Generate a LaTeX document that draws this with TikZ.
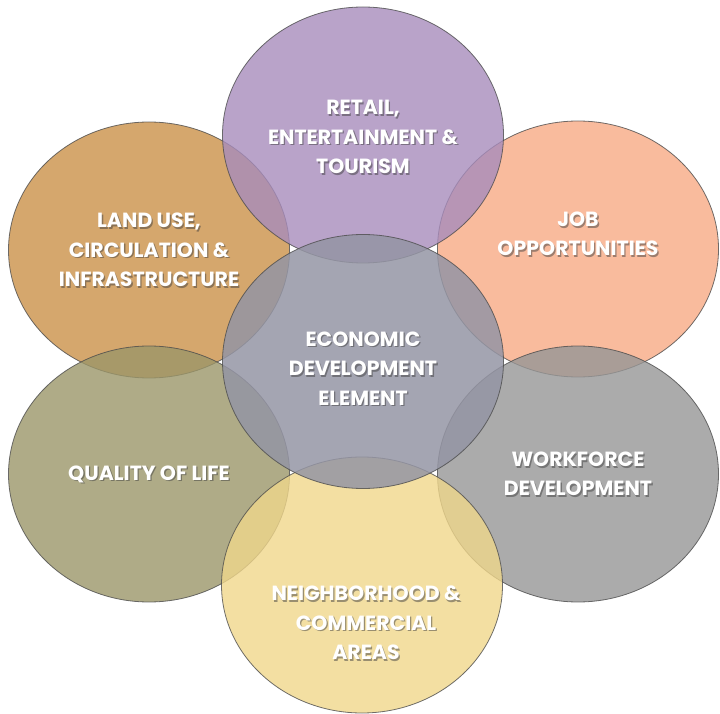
\documentclass[tikz,border=0pt]{standalone}
\usepackage{fontspec}
\setmainfont{Poppins}
\usetikzlibrary{shapes.geometric,positioning}

\definecolor{retailpurple}{RGB}{167,140,188}
\definecolor{landtan}{RGB}{203,145,72}
\definecolor{jobpeach}{RGB}{248,170,133}
\definecolor{workgray}{RGB}{150,150,150}
\definecolor{hoodyellow}{RGB}{240,215,139}
\definecolor{lifeolive}{RGB}{155,150,105}
\definecolor{coreslate}{RGB}{148,149,164}

\tikzset{
  circ/.style={ellipse, draw=black!70, draw opacity=0.8, line width=0.8pt,
               fill opacity=0.8, minimum width=281pt, minimum height=256pt, inner sep=0pt},
  lbl/.style={text=white, align=center, inner sep=0pt,
              font=\bfseries\fontsize{20.5}{29.5}\selectfont},
  lblshadow/.style={lbl, text=black!75, text opacity=0.5, xshift=1.3pt, yshift=-1.6pt},
}

% shadowed white label
\newcommand{\circlabel}[3]{%
  \node[lblshadow] at (#2) {#3};
  \node[lbl] (#1) at (#2) {#3};}

\begin{document}
\begin{tikzpicture}[x=1pt, y=1pt]
    \useasboundingbox (0,0) rectangle (720,713);

    % outer ring
    \node (land) [circ, fill=landtan] at (149,463) {};
    \node (jobs) [circ, fill=jobpeach] at (578,464) {};
    \node (life) [circ, fill=lifeolive] at (149,239) {};
    \node (work) [circ, fill=workgray] at (578,239) {};
    \node (retail) [circ, fill=retailpurple] at (363,578) {};
    \node (hood) [circ, fill=hoodyellow] at (362,128) {};
    % middle
    \node (core) [circ, fill=coreslate, fill opacity=0.85, minimum height=254pt] at (363,351.5) {};

    % labels
    \circlabel{retailtxt}{[yshift=-2pt]retail.center}{RETAIL,\\ ENTERTAINMENT \&\\ TOURISM}
    \circlabel{landtxt}{land.center}{LAND USE,\\ CIRCULATION \&\\ INFRASTRUCTURE}
    \circlabel{jobstxt}{[yshift=15pt]jobs.center}{JOB\\ OPPORTUNITIES}
    \circlabel{coretxt}{[yshift=-7pt]core.center}{ECONOMIC\\ DEVELOPMENT\\ ELEMENT}
    \circlabel{lifetxt}{life.center}{QUALITY OF LIFE}
    \circlabel{worktxt}{work.center}{WORKFORCE\\ DEVELOPMENT}
    \circlabel{hoodtxt}{[xshift=4pt,yshift=-38pt]hood.center}{NEIGHBORHOOD \&\\ COMMERCIAL\\ AREAS}
\end{tikzpicture}
\end{document}
